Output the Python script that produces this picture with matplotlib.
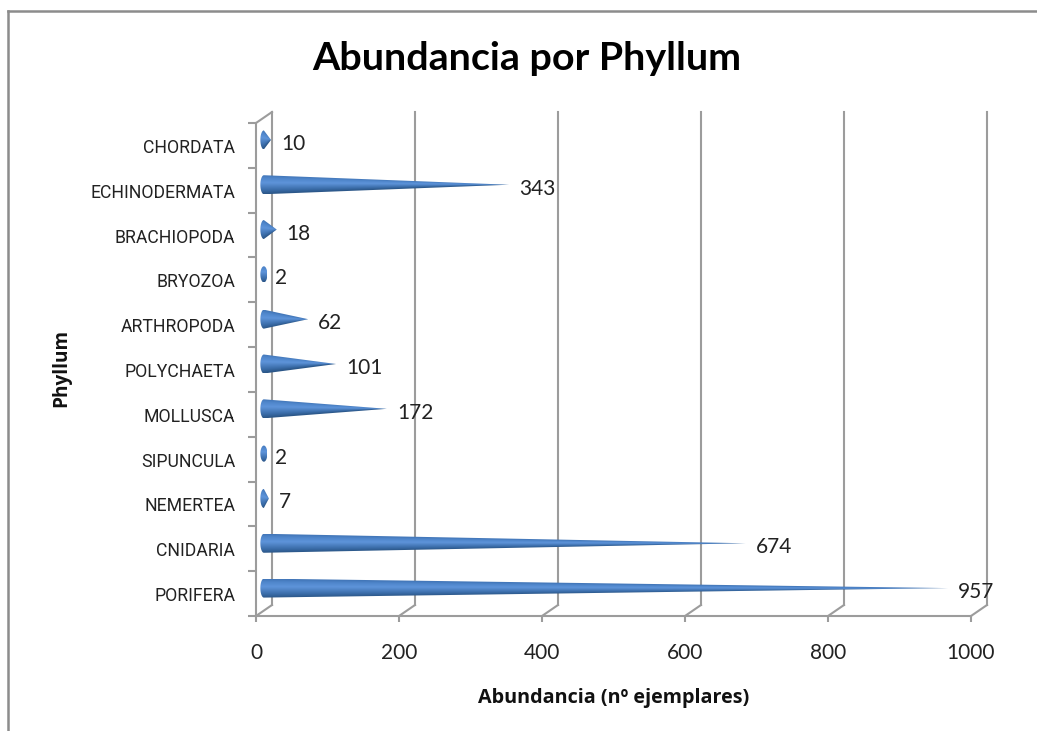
import matplotlib
matplotlib.use("Agg")
import matplotlib.pyplot as plt
import numpy as np
from matplotlib.colors import LinearSegmentedColormap
from matplotlib.patches import Polygon
from matplotlib.transforms import ScaledTranslation

phyla = ["PORIFERA", "CNIDARIA", "NEMERTEA", "SIPUNCULA", "MOLLUSCA", "POLYCHAETA",
         "ARTHROPODA", "BRYOZOA", "BRACHIOPODA", "ECHINODERMATA", "CHORDATA"]
abundance = [957, 674, 7, 2, 172, 101, 62, 2, 18, 343, 10]
x_ticks = [0, 200, 400, 600, 800, 1000]

W, H = 1037, 731
LEFT, RIGHT, TOP, BOTTOM = 256, 971, 123, 616
GREY = "#9c9c9c"

plt.rcParams["font.family"] = ["Lato", "DejaVu Sans"]

fig = plt.figure(figsize=(W / 100, H / 100), dpi=100)
ax = fig.add_axes([LEFT / W, 1 - BOTTOM / H, (RIGHT - LEFT) / W, (BOTTOM - TOP) / H])
ax.set_xlim(0, 1000)
ax.set_ylim(-0.5, 10.5)

px_x = 1000 / (RIGHT - LEFT)
px_y = 11 / (BOTTOM - TOP)
depth_x = 16 * px_x
depth_y = 11 * px_y

# 3d box: back wall lines and the slanted floor joints
for v in x_ticks:
    ax.plot([v + depth_x, v + depth_x], [-0.5 + depth_y, 10.5 + depth_y], color=GREY, lw=1.5,
            clip_on=False, zorder=1)
    ax.plot([v, v + depth_x], [-0.5, -0.5 + depth_y], color=GREY, lw=1.5, clip_on=False, zorder=1)
ax.plot([0, depth_x], [10.5, 10.5 + depth_y], color=GREY, lw=1.5, clip_on=False, zorder=1)

cmap = LinearSegmentedColormap.from_list(
    "cone", [(0, "#2b5687"), (0.2, "#3a6ca8"), (0.6, "#5e94da"), (0.85, "#4f86cb"), (1, "#4276b8")])

radius = 9.5 * px_y
half_w = 3.5 * px_x
for i, (name, val) in enumerate(zip(phyla, abundance)):
    yc = i + 5.5 * px_y
    x0 = 11
    tip = x0 + val
    r = radius * (0.85 if val < 5 else 1)
    a = np.linspace(np.pi / 2, 3 * np.pi / 2, 30)
    if val < half_w:
        a = np.linspace(0, 2 * np.pi, 60)
        pts = np.c_[x0 + half_w * np.cos(a), yc + r * np.sin(a)]
    else:
        pts = np.vstack([np.c_[x0 + half_w * np.cos(a), yc + r * np.sin(a)], [tip, yc]])
    xs = np.linspace(x0 - half_w, max(tip, x0 + half_w), 300)
    ys = np.linspace(yc - r, yc + r, 60)
    gx, gy = np.meshgrid(xs, ys)
    local = r * np.clip((tip - gx) / max(tip - x0, 1e-6), 0.02, 1) if val >= half_w else r
    shade = np.clip((gy - yc) / local * 0.5 + 0.5, 0, 1)
    im = ax.imshow(shade, cmap=cmap, vmin=0, vmax=1, origin="lower", aspect="auto", zorder=3,
                   extent=[xs[0], xs[-1], ys[0], ys[-1]], interpolation="bilinear")
    clip = Polygon(pts, closed=True, transform=ax.transData, fc="none", ec="none")
    ax.add_patch(clip)
    im.set_clip_path(clip)
    ax.text(tip + 10 * px_x, yc - 4 * px_y, str(val), fontsize=15, color="#222222",
            va="center", ha="left", zorder=4, clip_on=False)

ax.set_xlim(0, 1000)
ax.set_ylim(-0.5, 10.5)

for side in ["top", "right"]:
    ax.spines[side].set_visible(False)
for side in ["left", "bottom"]:
    ax.spines[side].set_color(GREY)
    ax.spines[side].set_linewidth(1.5)
ax.patch.set_alpha(0)

ax.set_xticks(x_ticks)
ax.tick_params(axis="x", length=4.5, width=1.5, color=GREY, pad=15, labelsize=15, labelcolor="#222222")
ax.set_yticks(np.arange(-0.5, 11), labels=[""] * 12)
ax.tick_params(axis="y", which="major", length=5.5, width=1.5, color=GREY)
ax.set_yticks(range(len(phyla)), labels=phyla, minor=True)
ax.tick_params(axis="y", which="minor", length=0, pad=15, labelcolor="#222222")
nudge = ScaledTranslation(0, -2.5 / 100, fig.dpi_scale_trans)
for lab in ax.get_yticklabels(minor=True):
    lab.set_fontfamily(["Roboto", "Lato"])
    lab.set_fontsize(12.7)
    lab.set_va("center")
    lab.set_transform(lab.get_transform() + nudge)

fig.text(527 / W, 1 - 59 / H, "Abundancia por Phyllum", fontsize=28.4, fontweight="bold",
         ha="center", va="center", color="black")
fig.text(614 / W, 1 - 698 / H, "Abundancia (nº ejemplares)", fontsize=14.2, fontweight="bold",
         family=["Open Sans", "DejaVu Sans"], ha="center", va="center", color="#111111")
fig.text(61 / W, 1 - 368 / H, "Phyllum", fontsize=13.7, fontweight="bold", rotation=90,
         family=["Open Sans", "DejaVu Sans"], ha="center", va="center", color="#111111")

# chart area frame, cut by the screenshot on the right and bottom
FRAME = "#8c8c8c"
fig.add_artist(plt.Line2D([8 / W, 8 / W], [0, 1 - 11 / H], color=FRAME, lw=1.8))
fig.add_artist(plt.Line2D([8 / W, 1], [1 - 11 / H, 1 - 11 / H], color=FRAME, lw=1.8))

fig.savefig("out.png", dpi=100)
